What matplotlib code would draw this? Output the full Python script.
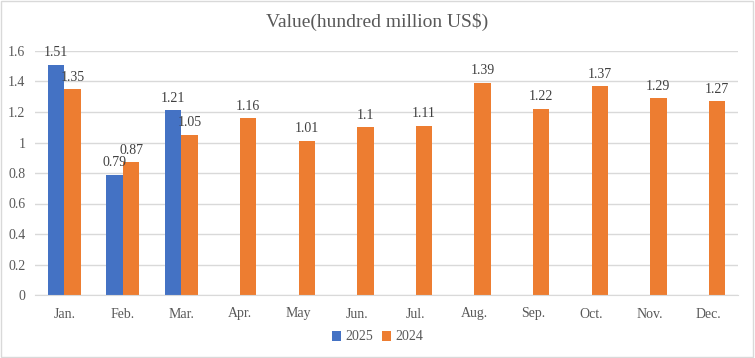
import matplotlib.pyplot as plt
import numpy as np

months = ["Jan.", "Feb.", "Mar.", "Apr.", "May", "Jun.", "Jul.", "Aug.", "Sep.", "Oct.", "Nov.", "Dec."]
values_2025 = [1.51, 0.79, 1.21]
values_2024 = [1.35, 0.87, 1.05, 1.16, 1.01, 1.10, 1.11, 1.39, 1.22, 1.37, 1.29, 1.27]
labels_2024 = ["1.35", "0.87", "1.05", "1.16", "1.01", "1.1", "1.11", "1.39", "1.22", "1.37", "1.29", "1.27"]

blue = "#4472C4"
orange = "#ED7D31"
text_color = "#595959"

plt.rcParams["font.family"] = ["Liberation Serif", "DejaVu Serif"]

fig = plt.figure(figsize=(7.55, 3.58), dpi=100)
ax = fig.add_axes([35 / 755, 1 - 295 / 358, 703 / 755, 244 / 358])

x = np.arange(len(months))
w = 0.28
b1 = ax.bar(x[:len(values_2025)] - w / 2, values_2025, w, color=blue, label="2025")
b2 = ax.bar(x + w / 2, values_2024, w, color=orange, label="2024")

for rect, v in zip(b1, values_2025):
    ax.annotate(f"{v:.2f}", (rect.get_x() + rect.get_width() / 2, v), xytext=(0, 4),
                textcoords="offset points", ha="center", va="bottom", fontsize=10, color="#404040")
for rect, lab in zip(b2, labels_2024):
    ax.annotate(lab, (rect.get_x() + rect.get_width() / 2, rect.get_height()), xytext=(0, 4),
                textcoords="offset points", ha="center", va="bottom", fontsize=10, color="#404040")

ax.set_xlim(-0.5, len(months) - 0.5)
ax.set_ylim(0, 1.6)
ax.set_yticks(np.arange(0, 1.61, 0.2))
ax.set_yticklabels(["0", "0.2", "0.4", "0.6", "0.8", "1", "1.2", "1.4", "1.6"])
ax.set_xticks(x)
ax.set_xticklabels(months)
ax.tick_params(axis="both", length=0, labelsize=10, colors=text_color)
ax.tick_params(axis="x", pad=9)
ax.tick_params(axis="y", pad=7)
ax.yaxis.grid(True, color="#D9D9D9", linewidth=1)
ax.set_axisbelow(True)
for s in ["top", "right", "left"]:
    ax.spines[s].set_visible(False)
ax.spines["bottom"].set_color("#D9D9D9")

fig.text(0.5, 1 - 22 / 358, "Value(hundred million US$)", ha="center", va="center",
         fontsize=14, color=text_color)

fig.legend(handles=[b1, b2], loc="center", bbox_to_anchor=(0.5, 1 - 337 / 358), ncol=2,
           frameon=False, fontsize=10, handlelength=0.7, handleheight=0.7,
           handletextpad=0.3, columnspacing=0.6, labelcolor=text_color)

fig.patches.append(plt.Rectangle((0.001, 0.002), 0.997, 0.995, transform=fig.transFigure,
                                 fill=False, edgecolor="#D9D9D9", linewidth=1))

fig.savefig("out.png", dpi=100)
